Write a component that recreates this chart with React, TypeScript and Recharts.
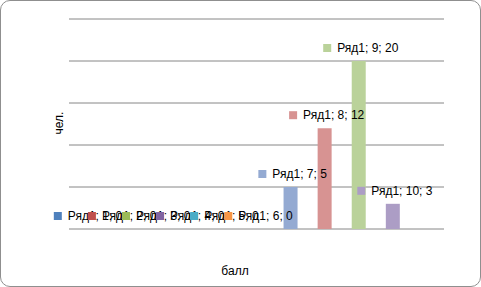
import { Bar, CartesianGrid, Cell, ComposedChart, Scatter, XAxis, YAxis } from "recharts";

const seriesName = "Ряд1";
const categories = ["1", "2", "3", "4", "5", "6", "7", "8", "9", "10", ""];
const values: (number | null)[] = [0, 0, 0, 0, 0, 0, 5, 12, 20, 3, null];
const barColors = [
  "#4f81bd",
  "#c0504d",
  "#9bbb59",
  "#8064a2",
  "#4bacc6",
  "#f79646",
  "#94aad2",
  "#d79392",
  "#bad29a",
  "#ac9dc5",
  "#ffffff",
];
const yTicks = [0, 5, 10, 15, 20, 25];

const chartData = categories.map((c, i) => ({ ball: c, count: values[i] }));

const FONT = "'Liberation Sans', Arial, sans-serif";

const measure = (s: string) => {
  const ctx = document.createElement("canvas").getContext("2d");
  if (!ctx) return s.length * 5.5;
  ctx.font = "12px 'Liberation Sans'";
  return ctx.measureText(s).width;
};

// подпись данных: маркер легенды + "Ряд1; x; y"
const PointLabel = (props: any) => {
  const { cx, cy, payload } = props;
  if (!payload || payload.count === null || payload.count === undefined) return null;
  const idx = categories.indexOf(payload.ball);
  const text = `${seriesName}; ${payload.ball}; ${payload.count}`;
  const tw = measure(text);
  const mx = cx + 2;
  const left = mx - (tw + 14) / 2;
  const ly = cy - 13;
  return (
    <g>
      <rect x={left} y={ly - 4} width={8} height={8} fill={barColors[idx]} />
      <text x={left + 14} y={ly + 4} fontSize={12} fontFamily={FONT} fill="#000">
        {text}
      </text>
    </g>
  );
};

export default function App() {
  return (
    <div
      style={{
        position: "absolute",
        left: 0,
        top: 0,
        width: 481,
        height: 287,
        boxSizing: "border-box",
        border: "1px solid #8f8f8f",
        borderRadius: 10,
        background: "#fff",
      }}
    >
      <div style={{ position: "absolute", left: -1, top: -1 }}>
        <ComposedChart
          width={481}
          height={287}
          data={chartData}
          margin={{ top: 19, right: 37, bottom: 58, left: 69 }}
          barCategoryGap={0}
        >
          <CartesianGrid vertical={false} stroke="#868686" strokeWidth={1} />
          <XAxis
            dataKey="ball"
            height={0}
            tick={{ fill: "none" }}
            tickLine={false}
            axisLine={false}
          />
          <YAxis
            width={0}
            domain={[0, 25]}
            ticks={yTicks}
            tick={{ fill: "none" }}
            tickLine={false}
            axisLine={false}
          />
          <Bar dataKey="count" barSize={14} isAnimationActive={false}>
            {chartData.map((_, i) => (
              <Cell key={`cell-${i}`} fill={barColors[i]} />
            ))}
          </Bar>
          <Scatter dataKey="count" isAnimationActive={false} shape={PointLabel} />
          <text
            x={63}
            y={123}
            transform="rotate(-90 63 123)"
            textAnchor="middle"
            fontSize={12}
            fontFamily={FONT}
            fill="#000"
          >
            чел.
          </text>
          <text
            x={235}
            y={275}
            textAnchor="middle"
            fontSize={12}
            fontFamily={FONT}
            fill="#000"
          >
            балл
          </text>
        </ComposedChart>
      </div>
    </div>
  );
}
